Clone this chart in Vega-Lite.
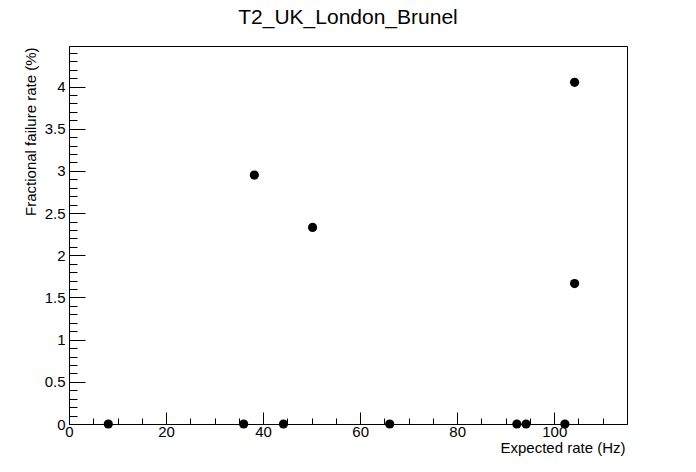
{
  "$schema": "https://vega.github.io/schema/vega-lite/v6.json",
  "width": 558,
  "height": 378,
  "autosize": {"type": "none"},
  "padding": {"left": 69, "top": 46, "right": 69, "bottom": 48},
  "background": "white",
  "title": {
    "text": "T2_UK_London_Brunel",
    "font": "Liberation Sans",
    "fontSize": 21,
    "fontWeight": "normal",
    "color": "black",
    "anchor": "middle",
    "frame": "group",
    "baseline": "alphabetic",
    "offset": 1
  },
  "config": {
    "view": {"stroke": "black", "strokeWidth": 1},
    "axis": {
      "labelFont": "Liberation Sans",
      "titleFont": "Liberation Sans",
      "labelFontSize": 15,
      "titleFontSize": 15,
      "titleFontWeight": "normal",
      "labelColor": "black",
      "titleColor": "black",
      "tickColor": "black",
      "domainColor": "black",
      "grid": false,
      "labelFlush": false,
      "labelOverlap": false
    }
  },
  "data": {
    "values": [
      {"rate": 8.1, "fail": 0},
      {"rate": 36.0, "fail": 0},
      {"rate": 38.2, "fail": 2.95},
      {"rate": 44.2, "fail": 0},
      {"rate": 50.2, "fail": 2.33},
      {"rate": 66.1, "fail": 0},
      {"rate": 92.3, "fail": 0},
      {"rate": 94.2, "fail": 0},
      {"rate": 102.2, "fail": 0},
      {"rate": 104.2, "fail": 4.05},
      {"rate": 104.2, "fail": 1.665}
    ]
  },
  "layer": [
    {
      "mark": {"type": "point", "filled": true, "color": "black", "size": 85, "opacity": 1},
      "encoding": {
        "x": {
          "field": "rate", "type": "quantitative",
          "scale": {"domain": [0, 115], "nice": false, "zero": false},
          "axis": {
            "orient": "bottom",
            "values": [0, 20, 40, 60, 80, 100],
            "format": "d",
            "tickSize": -12,
            "labelPadding": 12,
            "title": "Expected rate (Hz)",
            "titleAnchor": "end",
            "titleAlign": "right",
            "titleBaseline": "alphabetic",
            "titleX": 556,
            "titleY": 28
          }
        },
        "y": {
          "field": "fail", "type": "quantitative",
          "scale": {"domain": [0, 4.48], "nice": false, "zero": false},
          "axis": {
            "orient": "left",
            "values": [0, 0.5, 1, 1.5, 2, 2.5, 3, 3.5, 4],
            "format": "~g",
            "tickSize": -16,
            "labelPadding": 20,
            "title": "Fractional failure rate (%)",
            "titleAnchor": "end",
            "titleAlign": "right",
            "titleAngle": -90,
            "titleBaseline": "alphabetic",
            "titleX": -34,
            "titleY": 1
          }
        }
      }
    },
    {
      "mark": {"type": "point", "filled": true, "color": "black", "size": 85, "opacity": 0},
      "encoding": {
        "x": {
          "field": "rate", "type": "quantitative",
          "scale": {"domain": [0, 115], "nice": false, "zero": false},
          "axis": {
            "orient": "bottom",
            "values": [5, 10, 15, 25, 30, 35, 45, 50, 55, 65, 70, 75, 85, 90, 95, 105, 110],
            "tickSize": -6,
            "labels": false,
            "domain": false,
            "title": null
          }
        },
        "y": {
          "field": "fail", "type": "quantitative",
          "scale": {"domain": [0, 4.48], "nice": false, "zero": false},
          "axis": {
            "orient": "left",
            "values": [0.1, 0.2, 0.3, 0.4, 0.6, 0.7, 0.8, 0.9, 1.1, 1.2, 1.3, 1.4, 1.6, 1.7, 1.8, 1.9, 2.1, 2.2, 2.3, 2.4, 2.6, 2.7, 2.8, 2.9, 3.1, 3.2, 3.3, 3.4, 3.6, 3.7, 3.8, 3.9, 4.1, 4.2, 4.3, 4.4],
            "tickSize": -8,
            "labels": false,
            "domain": false,
            "title": null
          }
        }
      }
    }
  ],
  "resolve": {"axis": {"x": "independent", "y": "independent"}}
}
